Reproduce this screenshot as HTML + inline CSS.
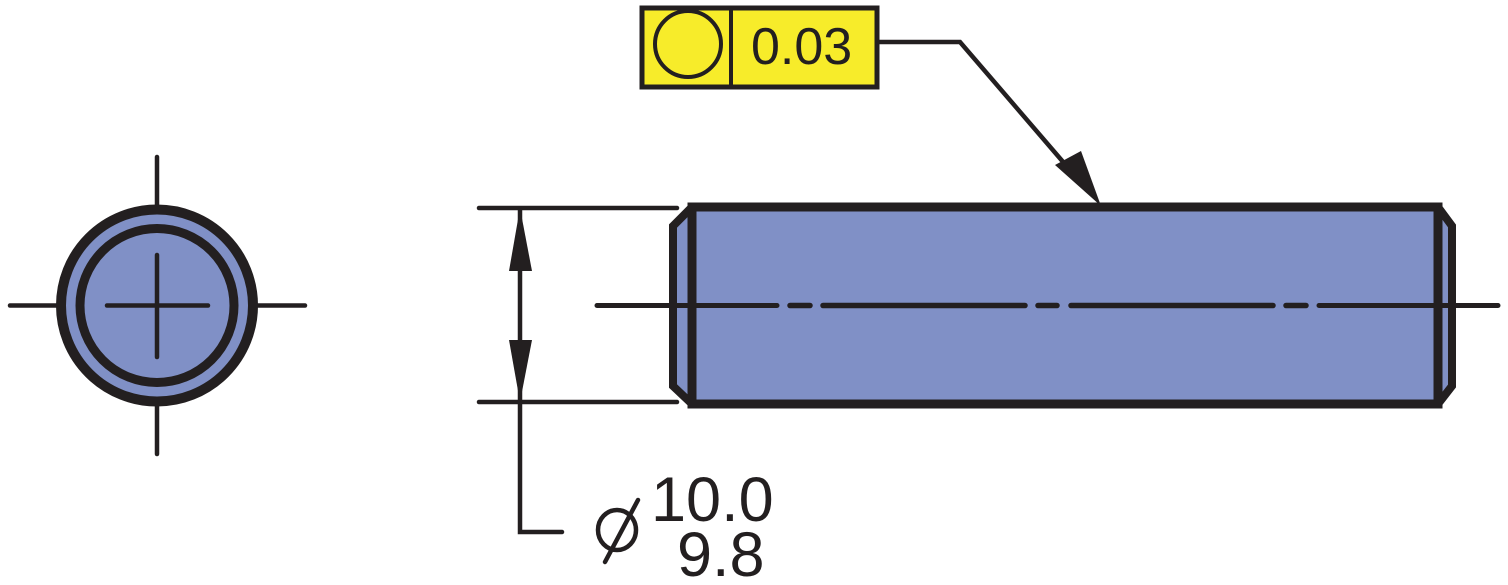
<!DOCTYPE html>
<html><head><style>
html,body{margin:0;padding:0;background:#fff;width:1508px;height:585px;overflow:hidden}
svg{display:block}
text{font-family:"Liberation Sans",Arial,sans-serif;fill:#231f20}
</style></head><body>
<svg width="1508" height="585" viewBox="0 0 1508 585" xmlns="http://www.w3.org/2000/svg">
<g stroke="#231f20" stroke-linecap="round" fill="none">
<!-- left view -->
<line x1="10" y1="305.5" x2="305" y2="305.5" stroke-width="4.5"/>
<line x1="157" y1="157" x2="157" y2="454" stroke-width="4.5"/>
<circle cx="157" cy="305.5" r="96" fill="#8090c6" stroke-width="10"/>
<circle cx="157" cy="305.5" r="77" fill="#8090c6" stroke-width="9"/>
<line x1="107" y1="305.5" x2="208" y2="305.5" stroke-width="4.5"/>
<line x1="157" y1="255" x2="157" y2="357" stroke-width="4.5"/>

<!-- body -->
<polygon points="673,226 692,207 1438,207 1452,226 1452,386 1438,404 692,404 673,386" fill="#8090c6" stroke="none"/>
<rect x="692" y="207" width="746" height="197" fill="#8090c6" stroke-width="9" stroke-linecap="butt"/>
<polyline points="692,207 673,226 673,386 692,404" stroke-width="8" stroke-linecap="butt" stroke-linejoin="miter"/>
<polyline points="1438,207 1452,226 1452,386 1438,404" stroke-width="8" stroke-linecap="butt" stroke-linejoin="miter"/>
<!-- centerline -->
<line x1="597" y1="305.5" x2="777" y2="305.5" stroke-width="5"/>
<line x1="790" y1="305.5" x2="810" y2="305.5" stroke-width="5.5"/>
<line x1="823" y1="305.5" x2="1025" y2="305.5" stroke-width="5.5"/>
<line x1="1038" y1="305.5" x2="1057" y2="305.5" stroke-width="5.5"/>
<line x1="1071" y1="305.5" x2="1273" y2="305.5" stroke-width="5.5"/>
<line x1="1286" y1="305.5" x2="1306" y2="305.5" stroke-width="5.5"/>
<line x1="1319" y1="305.5" x2="1498" y2="305.5" stroke-width="5"/>

<!-- dimension -->
<line x1="479" y1="208" x2="677" y2="208" stroke-width="4.5"/>
<line x1="479" y1="402" x2="677" y2="402" stroke-width="4.5"/>
<polyline points="520,210 520,532 562,532" stroke-width="4.5" stroke-linejoin="miter"/>
<!-- diameter symbol -->
<ellipse cx="617" cy="530" rx="19" ry="20" stroke-width="4.5"/>
<line x1="605" y1="562" x2="638" y2="500" stroke-width="4.5"/>
</g>
<polygon points="520,208 509,271 532,271" fill="#231f20"/>
<polygon points="520,402 509,340 532,340" fill="#231f20"/>
<text x="651" y="521" font-size="63">10.0</text>
<text x="677" y="576" font-size="63">9.8</text>

<!-- FCF -->
<rect x="642" y="8" width="235" height="79" fill="#f7ec2a" stroke="#231f20" stroke-width="5"/>
<line x1="731" y1="8" x2="731" y2="87" stroke="#231f20" stroke-width="4"/>
<circle cx="688" cy="44" r="33" fill="none" stroke="#231f20" stroke-width="4"/>
<text x="751" y="64" font-size="52">0.03</text>
<polyline points="878,42 960,42 1070,170" fill="none" stroke="#231f20" stroke-width="4.5"/>
<polygon points="1101,206 1055,165 1081,151" fill="#231f20"/>
</svg>
</body></html>
